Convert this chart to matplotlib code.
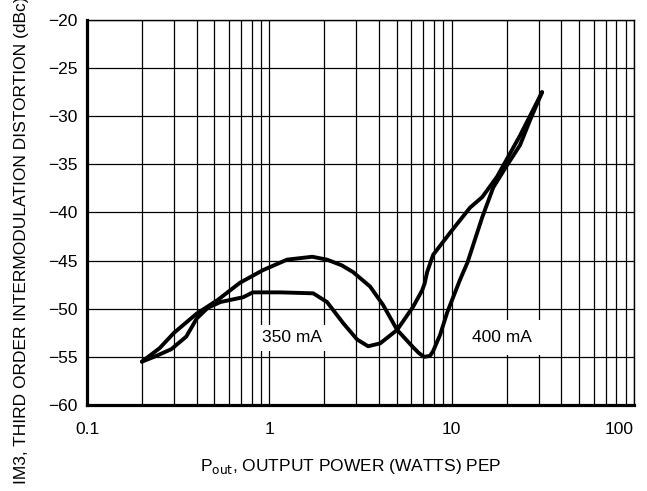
import matplotlib.pyplot as plt
import matplotlib.ticker as mticker

# 400 mA bias: broad hump near 1.7 W, deep notch near 7 W
pout_400 = [0.20, 0.22, 0.25, 0.30, 0.40, 0.52, 0.69, 0.92, 1.25, 1.72, 2.07,
            2.50, 2.88, 3.57, 4.20, 5.02, 6.14, 6.60, 7.06, 7.60, 7.91, 8.64,
            9.44, 11.1, 12.2, 14.7, 16.9, 20.1, 23.7, 26.9, 31.3]
imd_400 = [-55.5, -54.9, -54.1, -52.5, -50.5, -49.1, -47.3, -46.0, -44.9, -44.6,
           -44.9, -45.5, -46.2, -47.7, -49.6, -52.2, -54.0, -54.6, -55.0, -54.9,
           -54.4, -52.7, -50.4, -47.0, -45.2, -40.5, -37.4, -35.1, -33.0, -30.4,
           -27.5]

# 350 mA bias: flat shelf near -48 dB, notch near 3.5 W
pout_350 = [0.20, 0.24, 0.29, 0.35, 0.40, 0.46, 0.54, 0.72, 0.81, 1.15, 1.74,
            2.07, 2.54, 3.03, 3.48, 4.05, 5.02, 6.14, 6.88, 7.10, 7.33, 7.91,
            9.80, 12.6, 14.7, 17.7, 19.6, 23.7, 31.3]
imd_350 = [-55.5, -54.9, -54.2, -52.9, -51.0, -49.9, -49.3, -48.8, -48.3, -48.3,
           -48.4, -49.3, -51.5, -53.2, -53.9, -53.6, -52.2, -49.8, -48.1, -47.4,
           -46.2, -44.4, -42.1, -39.5, -38.4, -36.3, -34.8, -32.0, -27.5]

x_ticks = [0.1, 1, 10, 100]
x_tick_labels = ['0.1', '1', '10', '100']
y_ticks = [-20, -25, -30, -35, -40, -45, -50, -55, -60]

fam = ['Liberation Sans Narrow', 'Liberation Sans', 'DejaVu Sans']
plt.rcParams['font.family'] = fam
plt.rcParams['mathtext.fontset'] = 'custom'
plt.rcParams['mathtext.rm'] = 'Liberation Sans Narrow'
plt.rcParams['mathtext.it'] = 'Liberation Sans Narrow'

fig = plt.figure(figsize=(6.47, 4.91), dpi=100)
ax = fig.add_axes([0.1345, 0.1752, 0.8455, 0.7841])

ax.plot(pout_400, imd_400, color='black', lw=2.8, solid_joinstyle='round',
        solid_capstyle='round', zorder=4)
ax.plot(pout_350, imd_350, color='black', lw=2.8, solid_joinstyle='round',
        solid_capstyle='round', zorder=4)

ax.set_xscale('log')
ax.set_xlim(0.1, 100)
ax.set_ylim(-60, -20)
ax.set_xticks(x_ticks)
ax.set_xticklabels(x_tick_labels)
ax.xaxis.set_minor_locator(mticker.LogLocator(base=10, subs=range(2, 10)))
ax.xaxis.set_minor_formatter(mticker.NullFormatter())
ax.set_yticks(y_ticks)

ax.grid(True, which='both', axis='x', color='black', lw=0.9, zorder=1)
ax.grid(True, which='major', axis='y', color='black', lw=0.9, zorder=1)
ax.set_axisbelow(True)

ax.tick_params(which='both', length=0, labelsize=12.5)
ax.tick_params(axis='y', pad=7)
ax.tick_params(axis='x', pad=12)
for lbl in ax.get_xticklabels():
    if lbl.get_text() == '100':
        lbl.set_horizontalalignment('right')

ax.spines['left'].set_linewidth(2.3)
ax.spines['bottom'].set_linewidth(2.3)
ax.spines['top'].set_linewidth(1.0)
ax.spines['right'].set_linewidth(1.0)

box = dict(facecolor='white', edgecolor='none', pad=4)
ax.text(1.33, -53.0, '350 mA', ha='center', va='center', fontsize=12.5,
        bbox=box, zorder=3)
ax.text(18.9, -53.0, '400 mA', ha='center', va='center', fontsize=12.5,
        bbox=dict(facecolor='white', edgecolor='none', pad=7), zorder=3)

ax.set_xlabel(r'P$_{\mathrm{out}}$, OUTPUT POWER (WATTS) PEP', fontsize=12.5)
ax.xaxis.set_label_coords(0.483, -0.135)

fig.text(0.033, 0.510, 'IM3, THIRD ORDER INTERMODULATION DISTORTION (dBc)',
         rotation=90, ha='center', va='center', fontsize=12.5)

fig.savefig('out.png', dpi=100)
